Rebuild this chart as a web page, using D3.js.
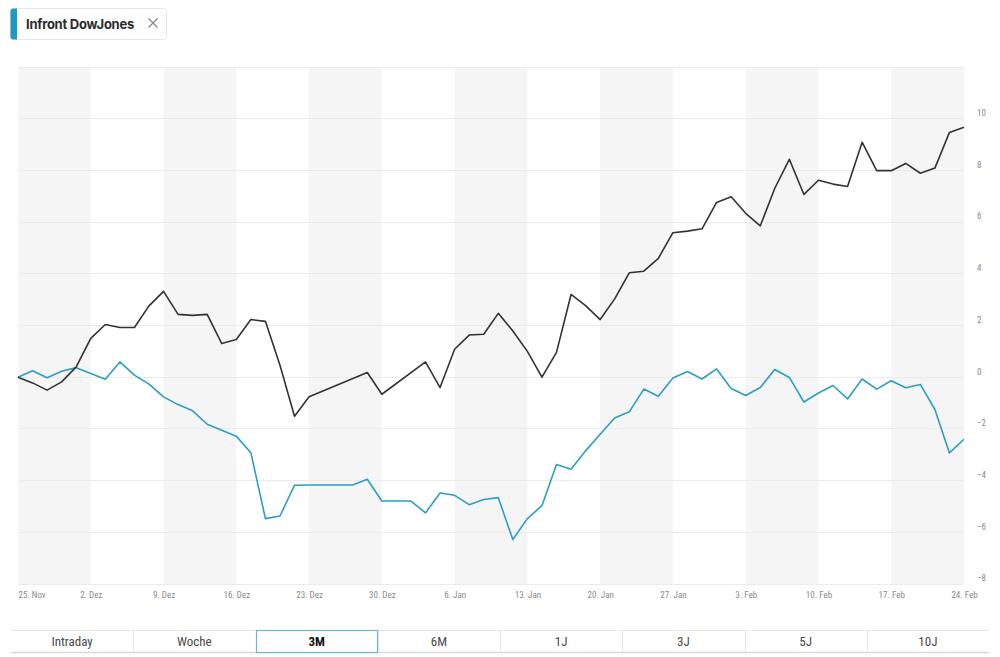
<!DOCTYPE html>
<html>
<head>
<meta charset="utf-8">
<script src="https://cdn.jsdelivr.net/npm/d3@7/dist/d3.min.js"></script>
<style>
  html, body { margin: 0; padding: 0; background: #fff; }
  svg { display: block; }
</style>
</head>
<body>
<svg id="chart" width="1000" height="657"></svg>
<script>
// ---------- DATA ----------
const dates = [
  "2024-11-25","2024-11-26","2024-11-27","2024-11-28","2024-11-29",
  "2024-12-02","2024-12-03","2024-12-04","2024-12-05","2024-12-06",
  "2024-12-09","2024-12-10","2024-12-11","2024-12-12","2024-12-13",
  "2024-12-16","2024-12-17","2024-12-18","2024-12-19","2024-12-20",
  "2024-12-23","2024-12-24","2024-12-25","2024-12-26","2024-12-27",
  "2024-12-30","2024-12-31","2025-01-01","2025-01-02","2025-01-03",
  "2025-01-06","2025-01-07","2025-01-08","2025-01-09","2025-01-10",
  "2025-01-13","2025-01-14","2025-01-15","2025-01-16","2025-01-17",
  "2025-01-20","2025-01-21","2025-01-22","2025-01-23","2025-01-24",
  "2025-01-27","2025-01-28","2025-01-29","2025-01-30","2025-01-31",
  "2025-02-03","2025-02-04","2025-02-05","2025-02-06","2025-02-07",
  "2025-02-10","2025-02-11","2025-02-12","2025-02-13","2025-02-14",
  "2025-02-17","2025-02-18","2025-02-19","2025-02-20","2025-02-21",
  "2025-02-24"
];

const infront = [
  0, -0.22, -0.5, -0.18, 0.4,
  1.5, 2.04, 1.92, 1.92, 2.76,
  3.32, 2.43, 2.39, 2.43, 1.3,
  1.46, 2.23, 2.16, 0.46, -1.51,
  -0.76, null, null, null, 0.18,
  -0.66, null, null, 0.59, -0.4,
  1.08, 1.63, 1.66, 2.47, 1.79,
  1.0, 0, 0.96, 3.2, 2.77,
  2.23, 3.03, 4.04, 4.1, 4.6,
  5.59, 5.65, 5.74, 6.76, 6.98,
  6.34, 5.85, 7.31, 8.43, 7.07,
  7.62, 7.47, 7.38, 9.09, 7.99,
  7.99, 8.27, 7.89, 8.09, 9.47,
  9.67
];

const dowJones = [
  0, 0.25, -0.02, 0.23, 0.37,
  0.14, -0.08, 0.59, 0.08, -0.27,
  -0.76, -1.06, -1.3, -1.82, -2.05,
  -2.28, -2.92, -5.47, -5.37, -4.18,
  -4.17, -4.17, -4.17, -4.17, -3.95,
  -4.79, -4.79, -4.79, -5.25, -4.48,
  -4.57, -4.93, -4.73, -4.66, -6.28,
  -5.47, -4.97, -3.38, -3.56, -2.85,
  -2.21, -1.58, -1.34, -0.46, -0.74,
  -0.03, 0.22, -0.07, 0.32, -0.44,
  -0.71, -0.4, 0.3, -0.01, -0.96,
  -0.61, -0.32, -0.84, -0.07, -0.46,
  -0.14, -0.41, -0.28, -1.25, -2.93,
  -2.4
];

const tickDates = [
  "2024-11-25","2024-12-02","2024-12-09","2024-12-16","2024-12-23","2024-12-30",
  "2025-01-06","2025-01-13","2025-01-20","2025-01-27","2025-02-03","2025-02-10",
  "2025-02-17","2025-02-24"
];
const tickLabels = [
  "25. Nov","2. Dez","9. Dez","16. Dez","23. Dez","30. Dez",
  "6. Jan","13. Jan","20. Jan","27. Jan","3. Feb","10. Feb",
  "17. Feb","24. Feb"
];

const yTicks = [-8, -6, -4, -2, 0, 2, 4, 6, 8, 10];
const yDomain = [-8, 12];

const legendLabel = "Infront DowJones";
const periods = ["Intraday", "Woche", "3M", "6M", "1J", "3J", "5J", "10J"];
const activePeriod = "3M";

// ---------- LAYOUT ----------
const svg = d3.select("#chart");
const plot = { left: 18, right: 964, top: 67, bottom: 584 };
const condensed = "'Liberation Sans Narrow', 'Roboto Condensed', 'Roboto', sans-serif";

const x = d3.scalePoint().domain(dates).range([plot.left, plot.right]);
const y = d3.scaleLinear().domain(yDomain).range([plot.bottom, plot.top]);

// weekly alternating bands
const bands = svg.append("g");
for (let i = 0; i < tickDates.length - 1; i++) {
  if (i % 2 === 0) {
    bands.append("rect")
      .attr("x", x(tickDates[i]))
      .attr("y", plot.top)
      .attr("width", x(tickDates[i + 1]) - x(tickDates[i]))
      .attr("height", plot.bottom - plot.top)
      .attr("fill", "#f5f5f5");
  }
}

// horizontal gridlines
const gridVals = d3.range(yDomain[0], yDomain[1] + 0.001, 2);
svg.append("g").selectAll("line").data(gridVals).join("line")
  .attr("x1", plot.left).attr("x2", plot.right)
  .attr("y1", d => y(d)).attr("y2", d => y(d))
  .attr("stroke", "#ebebeb").attr("stroke-width", 1)
  .attr("shape-rendering", "crispEdges");

// y-axis labels (right side)
const yAxis = d3.axisRight(y).tickValues(yTicks).tickSize(0).tickPadding(0).tickFormat(d3.format("d"));
const gy = svg.append("g").attr("transform", `translate(${plot.right + 13},-6)`).call(yAxis);
gy.select(".domain").remove();
gy.selectAll("text").attr("fill", "#8a8a8a").style("font-family", condensed).style("font-size", "9px");

// x-axis labels
const xAxis = d3.axisBottom(x).tickValues(tickDates).tickSize(0).tickPadding(0)
  .tickFormat((d, i) => tickLabels[i]);
const gx = svg.append("g").attr("transform", `translate(0,${plot.bottom + 8})`).call(xAxis);
gx.select(".domain").remove();
gx.selectAll("text").attr("fill", "#8a8a8a").style("font-family", condensed).style("font-size", "9px");
gx.selectAll(".tick").filter((d, i) => i === 0).select("text").attr("text-anchor", "start");

// lines
const line = d3.line()
  .x(d => x(d.date))
  .y(d => y(d.value));

function seriesData(values) {
  return dates.map((d, i) => ({ date: d, value: values[i] })).filter(p => p.value !== null);
}

svg.append("path").datum(seriesData(dowJones))
  .attr("fill", "none").attr("stroke", "#2b9fc3").attr("stroke-width", 1.6)
  .attr("stroke-linejoin", "round").attr("d", line);

svg.append("path").datum(seriesData(infront))
  .attr("fill", "none").attr("stroke", "#333333").attr("stroke-width", 1.6)
  .attr("stroke-linejoin", "round").attr("d", line);

// ---------- LEGEND CHIP ----------
const lg = svg.append("g");
lg.append("rect").attr("x", 10.5).attr("y", 8.5).attr("width", 156).attr("height", 31)
  .attr("rx", 3).attr("fill", "#fff").attr("stroke", "#e6e6e6");
lg.append("path")
  .attr("d", "M17,8.5 L13.5,8.5 Q10.5,8.5 10.5,11.5 L10.5,36.5 Q10.5,39.5 13.5,39.5 L17,39.5 Z")
  .attr("fill", "#1d9bbf");
lg.append("text").attr("x", 26).attr("y", 28.5).text(legendLabel)
  .style("font-family", "Inter, Roboto, sans-serif").style("font-weight", "700")
  .style("font-size", "13px").style("letter-spacing", "-0.25px").attr("fill", "#2a2a2a");
lg.append("path").attr("d", "M148.5,18.5 L157.5,27.5 M157.5,18.5 L148.5,27.5")
  .attr("stroke", "#808080").attr("stroke-width", 1.1);

// ---------- PERIOD BUTTONS ----------
const bx = d3.scaleBand().domain(periods).range([11, 989]);
const bTop = 630, bH = 22;
const btn = svg.append("g");
btn.append("line").attr("x1", 11).attr("x2", 989).attr("y1", bTop + 0.5).attr("y2", bTop + 0.5)
  .attr("stroke", "#e8e8e8");
btn.append("line").attr("x1", 11).attr("x2", 989).attr("y1", bTop + bH + 0.5).attr("y2", bTop + bH + 0.5)
  .attr("stroke", "#d9d9d9").attr("stroke-width", 1.5);
btn.selectAll(".sep").data(periods.slice(1)).join("line").attr("class", "sep")
  .attr("x1", d => Math.round(bx(d)) + 0.5).attr("x2", d => Math.round(bx(d)) + 0.5)
  .attr("y1", bTop).attr("y2", bTop + bH)
  .attr("stroke", "#e8e8e8");
btn.append("rect")
  .attr("x", Math.round(bx(activePeriod)) + 0.5).attr("y", bTop + 0.5)
  .attr("width", Math.round(bx.bandwidth()) - 1).attr("height", bH)
  .attr("fill", "#fff").attr("stroke", "#6cb5dd").attr("stroke-width", 1.2);
btn.selectAll(".lbl").data(periods).join("text").attr("class", "lbl")
  .attr("x", d => bx(d) + bx.bandwidth() / 2).attr("y", bTop + 16)
  .attr("text-anchor", "middle")
  .style("font-family", condensed)
  .style("font-size", "13px")
  .style("font-weight", d => d === activePeriod ? "700" : "400")
  .attr("fill", d => d === activePeriod ? "#111" : "#4a4a4a")
  .text(d => d);
</script>
</body>
</html>
